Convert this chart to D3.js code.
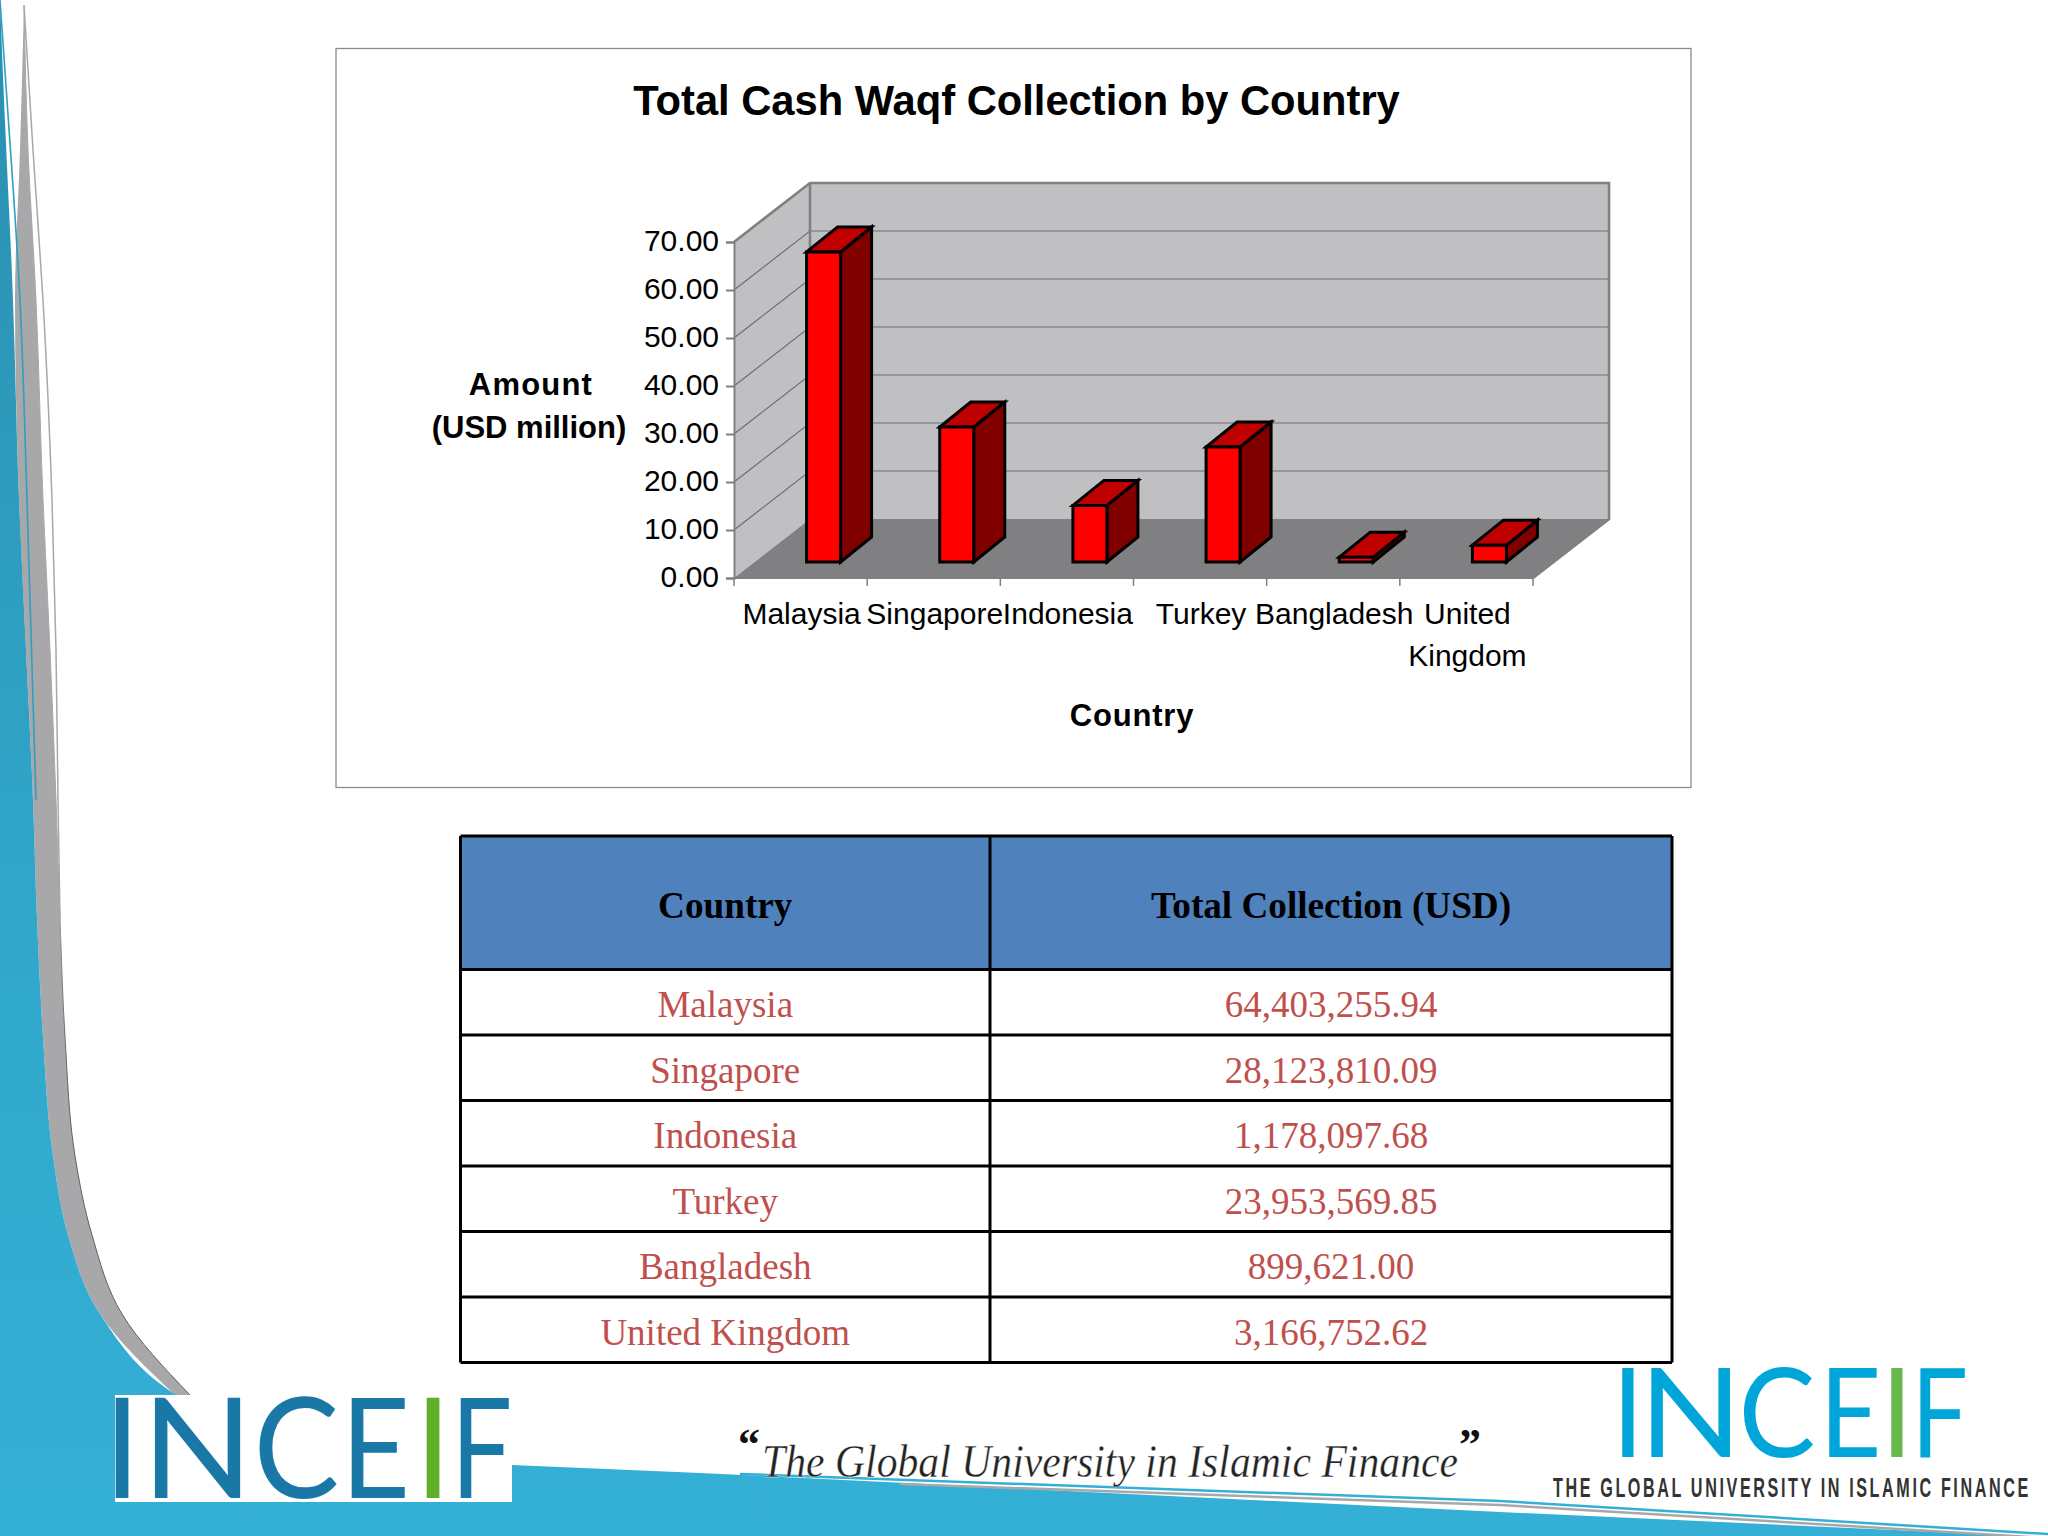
<!DOCTYPE html>
<html>
<head>
<meta charset="utf-8">
<script src="https://cdn.jsdelivr.net/npm/d3@7/dist/d3.min.js"></script>
<style>
html,body{margin:0;padding:0;background:#fff;}
svg{display:block;}
text{font-family:"Liberation Sans",Arial,sans-serif;}
.serif{font-family:"Liberation Serif","Times New Roman",serif;}
</style>
</head>
<body>
<svg id="c" width="2048" height="1536"></svg>
<script>
const categories = ["Malaysia","Singapore","Indonesia","Turkey","Bangladesh","United Kingdom"];
const amountsMillion = [64.6,28.12,11.78,23.95,1.0,3.5];
const yTicks = [0,10,20,30,40,50,60,70];
const tableHeader = ["Country","Total Collection (USD)"];
const tableCountries = ["Malaysia","Singapore","Indonesia","Turkey","Bangladesh","United Kingdom"];
const tableTotals = ["64,403,255.94","28,123,810.09","1,178,097.68","23,953,569.85","899,621.00","3,166,752.62"];
const chartTitle = "Total Cash Waqf Collection by Country";
const slogan = "The Global University in Islamic Finance";

const svg = d3.select("#c");
const line = d3.line();
const defs = svg.append("defs");
const grad = defs.append("linearGradient").attr("id","teal").attr("gradientUnits","userSpaceOnUse").attr("x1",0).attr("x2",0).attr("y1",0).attr("y2",1536);
grad.append("stop").attr("offset","0").attr("stop-color","#2a8fb0");
grad.append("stop").attr("offset","0.65").attr("stop-color","#31a9cc");
grad.append("stop").attr("offset","1").attr("stop-color","#34afd6");
const edgeGrad = defs.append("linearGradient").attr("id","edgeFade").attr("gradientUnits","userSpaceOnUse").attr("x1",0).attr("x2",0).attr("y1",850).attr("y2",1080);
edgeGrad.append("stop").attr("offset","0").attr("stop-color","#a8a7a9");
edgeGrad.append("stop").attr("offset","1").attr("stop-color","#5f5f61");

/* ---------- slide decoration ---------- */
const curve = d3.line().curve(d3.curveMonotoneY);
const blueEdge = [[0,0],[4,100],[13,300],[19,500],[26,650],[33,800],[37,919],[43,1037],[53,1156],[68,1235],[100,1314],[173,1393],[260,1440],[512,1465]];
const grayBand = [[5,24,24],[150,20,28],[300,15,36],[500,19,43],[650,26,50],[800,33,56],[919,37,60],[1037,43,65],[1156,53,75],[1235,68,92],[1314,100,122],[1395,175,190]];
const grayArea = d3.area().curve(d3.curveMonotoneY).y(d=>d[0]).x0(d=>d[1]).x1(d=>d[2]);
svg.append("path").attr("d", grayArea(grayBand)).attr("fill","#a8a7a9");
svg.append("path").attr("d", curve(grayBand.map(d=>[d[2],d[0]]))).attr("fill","none").attr("stroke","url(#edgeFade)").attr("stroke-width",1);
svg.append("path").attr("d", curve([[24,5],[33,150],[43,300],[52,500],[56,650],[58,800],[60,919]])).attr("fill","none").attr("stroke","#a8a7a9").attr("stroke-width",1.5);
svg.append("path").attr("d", curve(blueEdge)+"L700,1473L1500,1512L2048,1537L2048,1536L0,1536Z").attr("fill","url(#teal)");
svg.append("path").attr("d", curve([[0,0],[7,100],[20,300],[27,500],[36,800]])).attr("fill","none").attr("stroke","#2f9fc2").attr("stroke-width",1.6);
svg.append("path").attr("d", line([[740,1474],[1500,1501],[2048,1534]])).attr("fill","none").attr("stroke","#34afd6").attr("stroke-width",2.5);
svg.append("path").attr("d", line([[900,1484],[1500,1505],[2048,1538]])).attr("fill","none").attr("stroke","#a8a7a9").attr("stroke-width",2.5);

/* ---------- chart frame ---------- */
svg.append("rect").attr("x",336).attr("y",48.5).attr("width",1355).attr("height",739)
  .attr("fill","#fff").attr("stroke","#8a8a8a").attr("stroke-width",1.3);
svg.append("text").attr("x",1016.5).attr("y",115).attr("text-anchor","middle")
  .attr("font-size",41.7).attr("font-weight","bold").attr("fill","#000").text(chartTitle);

/* ---------- 3D plot ---------- */
const left=734,right=1533,base=578,top3=242,depthX=76,depthY=-59;
const y = d3.scaleLinear().domain([0,70]).range([base,top3]);
const x = d3.scaleBand().domain(categories).range([left,right]);
const barW = 34, barShiftX = 23, barShiftY = -16, barDepthX = 31, barDepthY = -25;

const wall = "#c0bfc2", floor = "#807f82", edge = "#808082";
const poly = (pts)=>line(pts)+"Z";
svg.append("path").attr("d",poly([[left,base],[left,y(70)],[left+depthX,y(70)+depthY],[left+depthX,base+depthY]])).attr("fill",wall);
svg.append("path").attr("d",poly([[left+depthX,y(70)+depthY],[right+depthX,y(70)+depthY],[right+depthX,base+depthY],[left+depthX,base+depthY]])).attr("fill",wall);
svg.append("path").attr("d",poly([[left,base],[left+depthX,base+depthY],[right+depthX,base+depthY],[right,base]])).attr("fill",floor);

svg.append("g").selectAll("path").data(yTicks.filter(d=>d>0&&d<70)).join("path")
  .attr("d",d=>line([[left,y(d)],[left+depthX,y(d)+depthY],[right+depthX,y(d)+depthY]]))
  .attr("fill","none").attr("stroke","#6e6e72").attr("stroke-width",1.2);
svg.append("path").attr("d",line([[left,y(70)],[left+depthX,y(70)+depthY],[right+depthX,y(70)+depthY],[right+depthX,base+depthY],[right,base]]))
  .attr("fill","none").attr("stroke",edge).attr("stroke-width",2.6);
svg.append("path").attr("d",line([[left+depthX,y(70)+depthY],[left+depthX,base+depthY]]))
  .attr("fill","none").attr("stroke",edge).attr("stroke-width",2.6);

const yAxis = d3.axisLeft(y).tickValues(yTicks).tickFormat(d3.format(".2f")).tickSize(8).tickPadding(7);
const ag = svg.append("g").attr("transform",`translate(${left},0)`).call(yAxis);
ag.selectAll("path,line").attr("stroke",edge).attr("stroke-width",2);
ag.selectAll("text").attr("font-size",30).attr("fill","#000").attr("font-family",'"Liberation Sans"').attr("dy","0.29em");
svg.append("path").attr("d",line([[left,base],[right,base]])).attr("stroke",edge).attr("stroke-width",2).attr("fill","none");
svg.append("g").selectAll("line").data(categories.concat("__end")).join("line")
  .attr("x1",d=>d==="__end"?right:x(d)).attr("x2",d=>d==="__end"?right:x(d))
  .attr("y1",base).attr("y2",base+8).attr("stroke",edge).attr("stroke-width",1.5);

const xLab = svg.append("g").selectAll("text").data(categories).join("text")
  .attr("text-anchor","middle").attr("font-size",30).attr("fill","#000");
xLab.selectAll("tspan").data(d=>d.split(" ").map(w=>({w,c:d}))).join("tspan")
  .attr("x",d=>x(d.c)+x.bandwidth()/2+1).attr("y",(d,i)=>624+i*42).text(d=>d.w);

const bars = svg.append("g").selectAll("g").data(categories.map((c,i)=>({c,v:amountsMillion[i]}))).join("g");
const bx = d=>x(d.c)+x.bandwidth()/2+barShiftX-barW/2;
const by0 = base+barShiftY;
const byT = d=>y(d.v)+barShiftY;
const barStroke = s=>s.attr("stroke","#000").attr("stroke-width",3).attr("stroke-linejoin","miter");
bars.append("path").attr("d",d=>poly([[bx(d)+barW,by0],[bx(d)+barW+barDepthX,by0+barDepthY],[bx(d)+barW+barDepthX,byT(d)+barDepthY],[bx(d)+barW,byT(d)]])).attr("fill","#800000").call(barStroke);
bars.append("path").attr("d",d=>poly([[bx(d),byT(d)],[bx(d)+barDepthX,byT(d)+barDepthY],[bx(d)+barW+barDepthX,byT(d)+barDepthY],[bx(d)+barW,byT(d)]])).attr("fill","#c00000").call(barStroke);
bars.append("path").attr("d",d=>poly([[bx(d),by0],[bx(d),byT(d)],[bx(d)+barW,byT(d)],[bx(d)+barW,by0]])).attr("fill","#ff0000").call(barStroke);

const axT = svg.append("g").attr("font-size",31).attr("text-anchor","middle").attr("fill","#000");
axT.append("text").attr("x",531).attr("y",395).attr("font-weight","bold").attr("letter-spacing",1.2).text("Amount");
axT.append("text").attr("x",529).attr("y",438).attr("font-weight","bold").text("(USD million)");
axT.append("text").attr("x",1132).attr("y",726).attr("font-weight","bold").attr("letter-spacing",0.8).text("Country");

/* ---------- table ---------- */
const colX=[460.5,990,1672];
const rowY=[836,969.5,1035,1100.5,1166,1231.5,1297,1362.5];
svg.append("rect").attr("x",colX[0]).attr("y",rowY[0]).attr("width",colX[2]-colX[0]).attr("height",rowY[1]-rowY[0]).attr("fill","#4f81bd");
const tb = svg.append("g").attr("stroke","#000").attr("stroke-width",3);
tb.selectAll("line.h").data(rowY).join("line").attr("x1",colX[0]).attr("x2",colX[2]).attr("y1",d=>d).attr("y2",d=>d);
tb.selectAll("line.v").data(colX).join("line").attr("class","v").attr("x1",d=>d).attr("x2",d=>d).attr("y1",rowY[0]).attr("y2",rowY[7]);
const colC=[(colX[0]+colX[1])/2,(colX[1]+colX[2])/2];
svg.append("g").selectAll("text").data(tableHeader).join("text").attr("class","serif")
  .attr("x",(d,i)=>colC[i]).attr("y",918).attr("text-anchor","middle").attr("font-size",37.2).attr("font-weight","bold").attr("fill","#000").text(d=>d);
const rowsData = tableCountries.map((c,i)=>({c,t:tableTotals[i],i}));
[["c",0],["t",1]].forEach(([k,col])=>{
  svg.append("g").selectAll("text").data(rowsData).join("text").attr("class","serif")
    .attr("x",colC[col]).attr("y",d=>(rowY[d.i+1]+rowY[d.i+2])/2+15).attr("text-anchor","middle")
    .attr("font-size",37).attr("fill","#c0504d").text(d=>d[k]);
});

/* ---------- logos ---------- */
const ctx = document.createElement("canvas").getContext("2d");
function logo(letters, baseline, size, colour, green){
  ctx.font = `${size}px Lato`;
  svg.append("g").selectAll("text").data(letters).join("text")
    .attr("font-size",size).style("font-family","Lato")
    .attr("fill",d=>d[3]?green:colour)
    .attr("transform",d=>{
      const m=ctx.measureText(d[0]);
      const l=-m.actualBoundingBoxLeft, r=m.actualBoundingBoxRight;
      const sx=(d[2]-d[1])/(r-l);
      return `translate(${d[1]-l*sx},${baseline}) scale(${sx},1)`;
    }).text(d=>d[0]);
}
svg.append("rect").attr("x",115).attr("y",1395).attr("width",397).attr("height",107).attr("fill","#fff");
logo([["I",115,129],["N",154,241],["C",259,337],["E",351,405],["I",426,440,1],["F",460,509]],1498,140,"#1a78a6","#5fb027");
logo([["I",1622,1634],["N",1651,1730],["C",1743,1813],["E",1829,1877],["I",1891,1903,1],["F",1920,1965]],1457,125,"#00a5d9","#68b84c");
const tag = svg.append("text").attr("font-size",28).attr("font-weight","bold").attr("fill","#333")
  .attr("letter-spacing",4.5).text("THE GLOBAL UNIVERSITY IN ISLAMIC FINANCE");
const tagLen = tag.node().getComputedTextLength();
tag.attr("transform",`translate(1553,1497) scale(${478/tagLen},1)`);

/* ---------- slogan ---------- */
svg.append("text").attr("class","serif").attr("x",762).attr("y",1477).attr("font-size",46).attr("font-style","italic").attr("fill","#222")
  .attr("stroke","#fff").attr("stroke-width",0.35)
  .attr("textLength",696).attr("lengthAdjust","spacingAndGlyphs").text(slogan);
svg.append("text").attr("class","serif").attr("x",738).attr("y",1459).attr("font-size",44).attr("font-weight","bold").attr("fill","#111").text("\u201C");
svg.append("text").attr("class","serif").attr("x",1459).attr("y",1459).attr("font-size",44).attr("font-weight","bold").attr("fill","#111").text("\u201D");
</script>
</body>
</html>
